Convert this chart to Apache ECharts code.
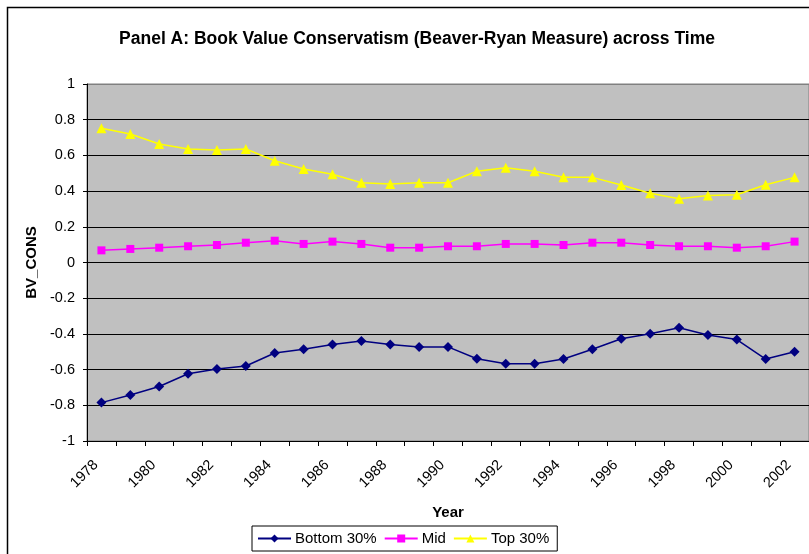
<!DOCTYPE html>
<html>
<head>
<meta charset="utf-8">
<script src="https://cdn.jsdelivr.net/npm/echarts@6/dist/echarts.min.js"></script>
<style>
  html, body { margin: 0; padding: 0; background: #fff; }
  #chart { width: 809px; height: 554px; }
</style>
</head>
<body>
<div id="chart"></div>
<script>
const years = ['1978', '1979', '1980', '1981', '1982', '1983', '1984', '1985', '1986', '1987', '1988', '1989',
  '1990', '1991', '1992', '1993', '1994', '1995', '1996', '1997', '1998', '1999', '2000', '2001', '2002']

const bottom30 = [-0.785, -0.742, -0.695, -0.623, -0.597, -0.580, -0.507, -0.486, -0.460, -0.440, -0.460, -0.473,
  -0.473, -0.539, -0.567, -0.567, -0.541, -0.486, -0.427, -0.399, -0.365, -0.406, -0.432, -0.541, -0.500]

const mid = [0.068, 0.076, 0.083, 0.091, 0.098, 0.111, 0.122, 0.104, 0.117, 0.104, 0.083, 0.083,
  0.091, 0.091, 0.104, 0.104, 0.098, 0.111, 0.111, 0.098, 0.091, 0.091, 0.083, 0.091, 0.117]

const top30 = [0.752, 0.720, 0.664, 0.636, 0.630, 0.636, 0.570, 0.524, 0.494, 0.447, 0.440, 0.447,
  0.447, 0.511, 0.531, 0.511, 0.477, 0.477, 0.434, 0.388, 0.357, 0.376, 0.380, 0.436, 0.477]

const font = '"Liberation Sans", Arial, sans-serif'

// gridlines are black, except the top one which is the plot-area border
const gridColors = ['#000', '#000', '#000', '#000', '#000', '#000', '#000', '#000', '#000', '#000', '#808080']

const chart = echarts.init(document.getElementById('chart'), null, { renderer: 'canvas' })

function lineSeries(name, data, color, symbol, size) {
  return {
    name,
    type: 'line',
    data,
    symbol,
    symbolSize: size,
    showSymbol: true,
    animation: false,
    lineStyle: { color, width: 1.5 },
    itemStyle: { color, borderWidth: 0 },
  }
}

chart.setOption({
  backgroundColor: '#fff',
  animation: false,
  title: {
    text: 'Panel A: Book Value Conservatism (Beaver-Ryan Measure) across Time',
    left: 412,
    textAlign: 'center',
    top: 25,
    textStyle: { fontFamily: font, fontSize: 17.5, fontWeight: 'bold', color: '#000' },
  },
  graphic: [
    {
      type: 'rect',
      shape: { x: 7.5, y: 7.5, width: 900, height: 700 },
      style: { fill: null, stroke: '#000', lineWidth: 1.5 },
      silent: true,
      z: 100,
    },
  ],
  legend: {
    left: 252,
    top: 526,
    padding: [5, 8, 5, 5],
    itemGap: 7,
    itemWidth: 33,
    itemHeight: 10,
    borderColor: '#000',
    borderWidth: 1,
    textStyle: { fontFamily: font, fontSize: 15, color: '#000', padding: [0, 0, 0, -1] },
    data: ['Bottom 30%', 'Mid', 'Top 30%'],
  },
  grid: {
    left: 87,
    top: 84,
    width: 722,
    height: 357,
    show: true,
    backgroundColor: '#c0c0c0',
    borderColor: '#808080',
    borderWidth: 1,
  },
  xAxis: {
    type: 'category',
    data: years,
    boundaryGap: true,
    name: 'Year',
    nameLocation: 'middle',
    nameGap: 64,
    nameTextStyle: { fontFamily: font, fontSize: 15, fontWeight: 'bold', color: '#000' },
    axisLine: { onZero: false, lineStyle: { color: '#000', width: 1 } },
    axisTick: { show: true, interval: 0, length: 5, lineStyle: { color: '#000' } },
    axisLabel: {
      interval: 1,
      rotate: 45,
      margin: 16,
      padding: [0, 8, 0, 0],
      fontFamily: font,
      fontSize: 14.5,
      color: '#000',
    },
    splitLine: { show: false },
  },
  yAxis: {
    type: 'value',
    min: -1,
    max: 1,
    interval: 0.2,
    name: 'BV_CONS',
    nameLocation: 'middle',
    nameGap: 47,
    nameTextStyle: { fontFamily: font, fontSize: 15, fontWeight: 'bold', color: '#000' },
    axisLine: { show: true, lineStyle: { color: '#000', width: 1 } },
    axisTick: { show: true, length: 4, lineStyle: { color: '#000' } },
    axisLabel: {
      margin: 12,
      fontFamily: font,
      fontSize: 14.5,
      color: '#000',
      formatter: (v) => String(+v.toFixed(1)),
    },
    splitLine: { show: true, lineStyle: { color: gridColors, width: 1 } },
  },
  series: [
    lineSeries('Bottom 30%', bottom30, '#000080', 'diamond', 10),
    lineSeries('Mid', mid, '#ff00ff', 'rect', 8),
    lineSeries('Top 30%', top30, '#ffff00', 'triangle', 10),
  ],
})
</script>
</body>
</html>
